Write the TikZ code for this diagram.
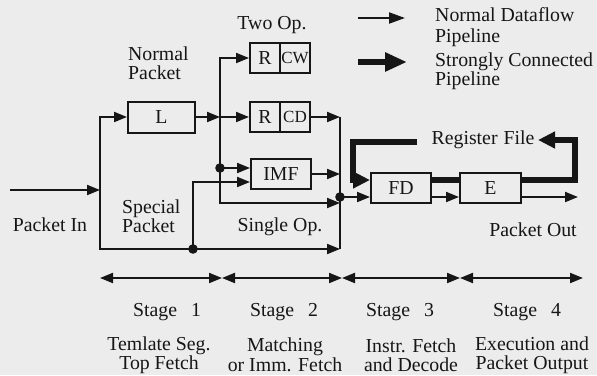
\documentclass[tikz,border=0pt]{standalone}
\usepackage{fontspec}
\setmainfont{Liberation Serif}
\usetikzlibrary{arrows.meta}
\definecolor{bg}{RGB}{236,236,236}
\definecolor{ink}{RGB}{22,22,22}
\begin{document}
\begin{tikzpicture}[x=1pt,y=-1pt,
  font=\fontsize{19.8}{19.5}\selectfont,
  box/.style={draw=ink, line width=2pt, fill=bg, minimum height=30pt, inner sep=0pt, text=ink},
  wire/.style={draw=ink, line width=2pt, line join=miter},
  arr/.style={wire, -{Triangle[length=13pt,width=10pt]}},
  arr2/.style={wire, {Triangle[length=13pt,width=10pt]}-{Triangle[length=13pt,width=10pt]}},
  heavy/.style={draw=ink, line width=5.5pt, line join=miter},
  heavyarr/.style={heavy, -{Triangle[length=17pt,width=16pt]}},
  lbl/.style={text=ink, inner sep=0pt},
  dotc/.style={fill=ink}
]
\fill[bg] (0,0) rectangle (597,375);
\useasboundingbox (0,0) rectangle (597,375);

% boxes
\node[box, minimum width=67pt, minimum height=31pt] (L) at (161.5,117) {L};
\node[box, minimum width=30pt] (rcwR) at (265,58) {R};
\node[box, minimum width=30pt, font=\fontsize{17}{17}\selectfont] (rcwC) at (295,58) {CW};
\node[box, minimum width=30pt] (rcdR) at (265,117) {R};
\node[box, minimum width=30pt, font=\fontsize{17}{17}\selectfont] (rcdC) at (295,117) {CD};
\node[box, minimum width=60pt] (IMF) at (281,174) {IMF};
\node[box, minimum width=60pt] (FD) at (401,188) {FD};
\node[box, minimum width=61pt] (E) at (490.5,188) {E};

% junction coordinates
\coordinate (in0) at (10,190);
\coordinate (j1) at (100,190);
\coordinate (j1t) at (100,117);
\coordinate (j1b) at (100,249);
\coordinate (d1) at (193,249);
\coordinate (k1) at (193,182);
\coordinate (v2t) at (220,58);
\coordinate (v2m) at (220,117);
\coordinate (d2) at (220,168);
\coordinate (v2b) at (220,203);
\coordinate (busT) at (340,117);
\coordinate (bus203) at (340,203);
\coordinate (busB) at (340,249);
\coordinate (d3) at (340,197);
\coordinate (out) at (578,197);
\coordinate (h) at (353,180);
\coordinate (r1) at (575,180);
\coordinate (r2) at (575,140);
\coordinate (rtip) at (538,140);
\coordinate (l0) at (417,142);
\coordinate (l1) at (353,142);

% thin connectors
\draw[arr] (in0) -- (j1);
\draw[arr2] (busB) -- (j1b) -- (j1t) -- (L.west);
\draw[arr] (L.east) -- (v2m);
\draw[arr] (v2m) -- (rcdR.west);
\draw[arr2] (bus203) -- (v2b) -- (v2t) -- (rcwR.west);
\draw[arr] (d2) -- (d2 -| IMF.west);
\draw[arr] (d1) -- (k1) -- (k1 -| IMF.west);
\draw[arr] (rcdC.east) -- (busT);
\draw[arr] (IMF.east) -- (IMF.east -| busT);
\draw[wire] (busT) -- (busB);
\draw[arr] (d3) -- (d3 -| FD.west);
\draw[arr] (d3 -| FD.east) -- (d3 -| E.west);
\draw[arr] (d3 -| E.east) -- (out);
\fill[dotc] (d1) circle (4.8);
\fill[dotc] (d2) circle (4.8);
\fill[dotc] (d3) circle (4.8);

% strongly connected pipeline
\draw[heavy] (h -| FD.east) -- (h -| E.west);
\draw[heavyarr] (h -| E.east) -- (r1) -- (r2) -- (rtip);
\draw[heavyarr] (l0) -- (l1) -- (h) -- (h -| FD.west);
\node[lbl] (rf) at (483,140) {Register\hspace{6pt}File};

% legend
\coordinate (g1a) at (358,18);
\coordinate (g1b) at (405,18);
\coordinate (g2a) at (358,62);
\coordinate (g2b) at (407,62);
\draw[wire, -{Triangle[length=16pt,width=11pt]}] (g1a) -- (g1b);
\draw[draw=ink, line width=6pt, -{Triangle[length=22pt,width=18pt]}] (g2a) -- (g2b);
\node[lbl, anchor=west, align=left] (lg1) at (435,27) {Normal Dataflow\\[1pt]Pipeline};
\node[lbl, anchor=west, align=left] (lg2) at (435,71) {Strongly Connected\\[-1pt]Pipeline};

% labels
\node[lbl] (twoop) at (272,25) {Two Op.};
\node[lbl, anchor=west, align=left] (np) at (128,63) {Normal\\[-1pt]Packet};
\node[lbl, anchor=west, align=left] (sp) at (122,216) {Special\\[-1pt]Packet};
\node[lbl] (pin) at (50,225) {Packet\hspace{5pt}In};
\node[lbl] (sop) at (280,227) {Single Op.};
\node[lbl] (pout) at (533,230) {Packet\hspace{5pt}Out};

% stage arrows
\coordinate (s0) at (100,278);
\coordinate (s1) at (222,278);
\coordinate (s2) at (342,278);
\coordinate (s3) at (460,278);
\coordinate (s4) at (583,278);
\draw[arr2] (s0) -- (s1);
\draw[arr2] (s1) -- (s2);
\draw[arr2] (s2) -- (s3);
\draw[arr2] (s3) -- (s4);

\node[lbl] (st1) at (167,312) {Stage\hspace{14pt}1};
\node[lbl] (st2) at (284,312) {Stage\hspace{14pt}2};
\node[lbl] (st3) at (400,312) {Stage\hspace{14pt}3};
\node[lbl] (st4) at (527,312) {Stage\hspace{14pt}4};

\node[lbl, align=center] (sub1) at (159,355) {Temlate Seg.\\Top Fetch};
\node[lbl, align=center] (sub2) at (285,355) {Matching\\or Imm. Fetch};
\node[lbl, align=center] (sub3) at (411,355) {Instr. Fetch\\and Decode};
\node[lbl, align=center] (sub4) at (532,355) {Execution and\\Packet Output};
\end{tikzpicture}
\end{document}
